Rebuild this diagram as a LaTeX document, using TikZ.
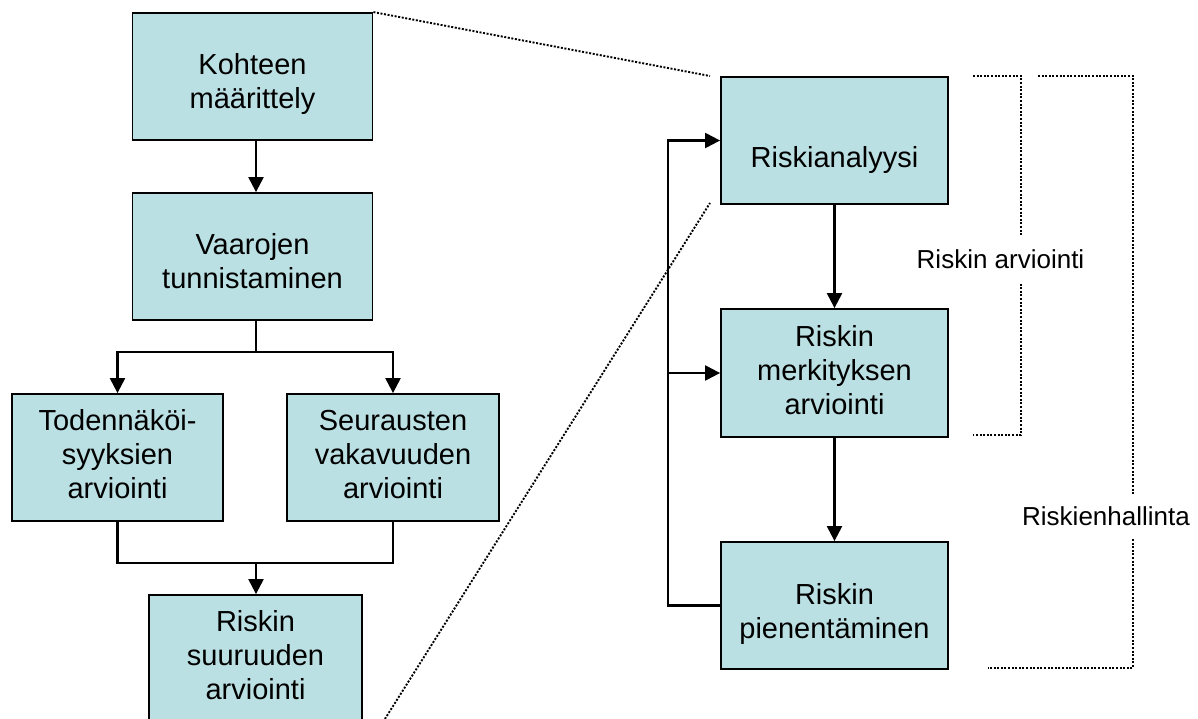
\documentclass[tikz,border=0pt]{standalone}
\usepackage{fontspec}
\setmainfont{Liberation Sans}
\usetikzlibrary{arrows.meta}
\definecolor{boxfill}{RGB}{187,224,227}
\newcommand\ls{\rule[-7pt]{0pt}{27pt}}
\begin{document}
\begin{tikzpicture}[x=1pt,y=-1pt,
  box/.style={draw=black, line width=1.8pt, fill=boxfill, inner sep=0pt, minimum height=127pt},
  btext/.style={align=center, inner sep=0pt, font=\fontsize{29}{34}\selectfont},
  conn/.style={line width=2.2pt, -{Triangle[length=15pt,width=15pt]}},
  plain/.style={line width=2.2pt},
  zoomline/.style={line width=1.9pt, dash pattern=on 2pt off 1.6pt},
  lab/.style={fill=white, inner sep=0pt, minimum height=45pt, font=\fontsize{26}{30}\selectfont}]
\useasboundingbox (0,0) rectangle (1198,719);
\clip (0,0) rectangle (1198,719);

% left column boxes
\node[box, minimum width=240pt] (b1) at (252.5,76.5) {};
\node[box, minimum width=240pt] (b2) at (252.5,256.5) {};
\node[box, minimum width=211pt] (b3) at (117.5,457.5) {};
\node[box, minimum width=212pt] (b4) at (393,457.5) {};
\node[box, minimum width=213pt] (b5) at (255.5,658.5) {};
% right column boxes
\node[box, minimum width=227pt] (r1) at (834.5,140.5) {};
\node[box, minimum width=227pt, minimum height=128pt] (r2) at (834.5,373) {};
\node[box, minimum width=227pt] (r3) at (834.5,605.5) {};

% texts
\node[btext] (t1) at ([yshift=-8pt]b1.center) {\ls Kohteen\\\ls määrittely};
\node[btext] (t2) at ([yshift=-8pt]b2.center) {\ls Vaarojen\\\ls tunnistaminen};
\node[btext] (t3) at (b3.center) {\ls Todennäköi-\\\ls syyksien\\\ls arviointi};
\node[btext] (t4) at (b4.center) {\ls Seurausten\\\ls vakavuuden\\\ls arviointi};
\node[btext] (t5) at (b5.center) {\ls Riskin\\\ls suuruuden\\\ls arviointi};
\node[btext] (t6) at ([yshift=-20pt]r1.center) {\ls Riskianalyysi};
\node[btext] (t7) at (r2.center) {\ls Riskin\\\ls merkityksen\\\ls arviointi};
\node[btext] (t8) at ([yshift=-9pt]r3.center) {\ls Riskin\\\ls pienentäminen};

% left connectors
\coordinate (s1) at (256,352);
\coordinate (j1) at (256,563);
\draw[conn] ([xshift=3.5pt]b1.south) -- ([xshift=3.5pt]b2.north);
\draw[plain] ([xshift=3.5pt]b2.south) -- (s1);
\draw[conn] (s1) -| (b3.north);
\draw[conn] (s1) -| (b4.north);
\draw[plain] (b3.south) -- (b3.south |- j1) -- (b4.south |- j1) -- (b4.south);
\draw[conn] (j1) -- (j1 |- b5.north);

% right connectors
\coordinate (fb) at (668,0);
\draw[conn] (r1.south) -- (r2.north);
\draw[conn] (r2.south) -- (r3.north);
\draw[conn] (r3.west) -- (r3.west -| fb) |- (r1.west);
\draw[conn] (r2.west -| fb) -- (r2.west);

% zoom lines
\coordinate (z1) at (710,76);
\coordinate (z2) at (710,203);
\coordinate (z3) at (383,722);
\draw[zoomline] (b1.north east) -- (z1);
\draw[zoomline] (z3) -- (z2);

% brackets
\draw[zoomline] (973,76) -- (1021,76) -- (1021,435) -- (973,435);
\node[lab] (l1) at (1000.5,259) {Riskin arviointi};
\draw[zoomline] (1038,76) -- (1133,76) -- (1133,668) -- (988,668);
\node[lab] (l2) at (1106,516) {Riskienhallinta};
\end{tikzpicture}
\end{document}
